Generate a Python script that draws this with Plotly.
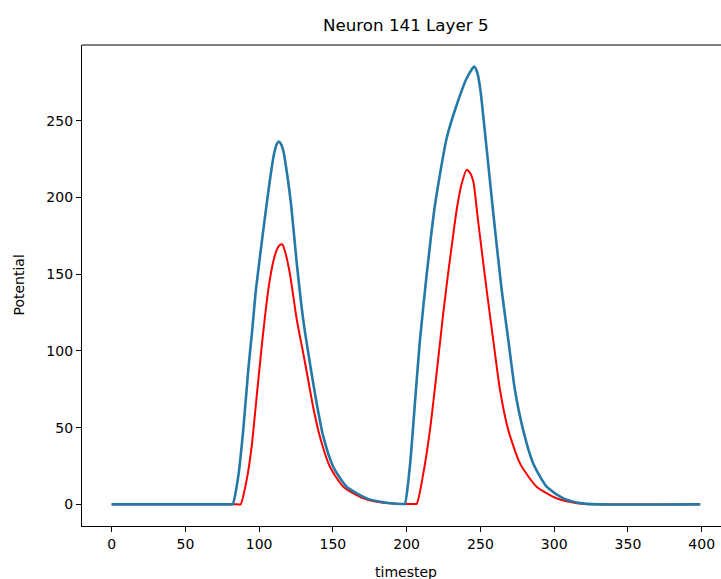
import plotly.graph_objects as go

# Data
timestep_blue = [0, 80, 82, 85.8, 89.2, 92.6, 95.3, 97.8, 102.8, 107.3, 110, 112, 113.4, 115, 116.5, 119,
                 121.7, 125.4, 129.9, 135.6, 139, 143.5, 150.2, 159.3, 172.9, 186.4, 197.7, 198.8,
                 202.2, 205.6, 209, 213.6, 219.2, 227.1, 233.9, 240.7, 245.8, 248, 250, 254.2, 258.7,
                 264.4, 268.9, 273.4, 279, 285.8, 294.9, 306.2, 317.5, 330, 399]
potential_blue = [0, 0, 0, 18, 48.4, 87.5, 113.6, 139.8, 178.8, 211.4, 228, 235, 236.4, 234.5, 230, 215,
                  195, 158, 120.1, 85, 65.8, 44.1, 24.5, 11.5, 3.9, 1, 0.2, 0.3,
                  25, 66, 107, 150, 195.1, 238.6, 260.3, 277.7, 285.3, 281, 270, 232, 190,
                  139.8, 107.1, 74.5, 48.4, 26.7, 11.5, 3.9, 0.8, 0, 0]

timestep_red = [0, 85, 87.4, 91.5, 94.9, 98.3, 101.7, 104.5, 107, 109.5, 112, 114, 115.7, 117.5, 120.9,
                125.4, 129.9, 132.6, 136.7, 141.2, 148, 157, 170.6, 184, 195, 205, 206.8, 211.3,
                215.8, 220.3, 224.8, 227.5, 230.5, 233.9, 237.3, 240.7, 243, 245.2, 248.5, 254.2,
                258.7, 263.3, 268.9, 276.8, 288.1, 301.7, 315.2, 330, 399]
potential_red = [0, 0, 0, 15.8, 37.5, 70.1, 102.7, 127, 145, 158, 166, 169, 169.5, 165, 150,
                 121, 98.4, 84.5, 63, 44.1, 24.5, 11.5, 3.9, 1, 0.3, 0.3, 0.3, 20.2,
                 48.4, 85.4, 124.5, 146, 168, 192, 209, 218, 216, 210.3, 184.2, 139.8,
                 107.1, 74.5, 48.4, 26.7, 11.5, 3.9, 0.8, 0, 0]

x_ticks = [0, 50, 100, 150, 200, 250, 300, 350, 400]
y_ticks = [0, 50, 100, 150, 200, 250]

FONT = "DejaVu Sans"

fig = go.Figure()
fig.add_trace(go.Scatter(x=timestep_red, y=potential_red, mode="lines",
                         line=dict(color="#ff0000", width=2.0, shape="spline", smoothing=0.6),
                         showlegend=False))
fig.add_trace(go.Scatter(x=timestep_blue, y=potential_blue, mode="lines",
                         line=dict(color="#2479a6", width=2.6, shape="spline", smoothing=0.6),
                         showlegend=False))

axis_common = dict(showgrid=False, zeroline=False, showline=True, linecolor="black", linewidth=1.2,
                   ticks="outside", ticklen=5, tickwidth=1.2, tickcolor="black",
                   tickfont=dict(family=FONT, size=14, color="black"))

fig.update_layout(
    width=721, height=579,
    margin=dict(l=82, r=0, t=45, b=53),
    paper_bgcolor="white", plot_bgcolor="white",
    xaxis=dict(range=[-20.1, 413.1], tickvals=x_ticks, **axis_common),
    yaxis=dict(range=[-14.1, 299.4], tickvals=y_ticks, **axis_common),
    shapes=[dict(type="line", xref="paper", yref="paper", x0=0, x1=1, y0=1, y1=1,
                 line=dict(color="black", width=1.2))],
    annotations=[
        dict(text="Neuron 141 Layer 5", xref="paper", yref="paper", x=0.5067, y=1, yshift=20,
             xanchor="center", yanchor="middle", showarrow=False,
             font=dict(family=FONT, size=16.7, color="black")),
        dict(text="timestep", xref="paper", yref="paper", x=0.5067, y=0, yshift=-46,
             xanchor="center", yanchor="middle", showarrow=False,
             font=dict(family=FONT, size=14, color="black")),
        dict(text="Potential", xref="paper", yref="paper", x=0, xshift=-64, y=0.5,
             xanchor="center", yanchor="middle", showarrow=False, textangle=-90,
             font=dict(family=FONT, size=14, color="black")),
    ],
)

fig.write_html("out.html", config={"displayModeBar": False},
               post_script="document.body.style.margin='0';document.body.style.overflow='hidden';")
